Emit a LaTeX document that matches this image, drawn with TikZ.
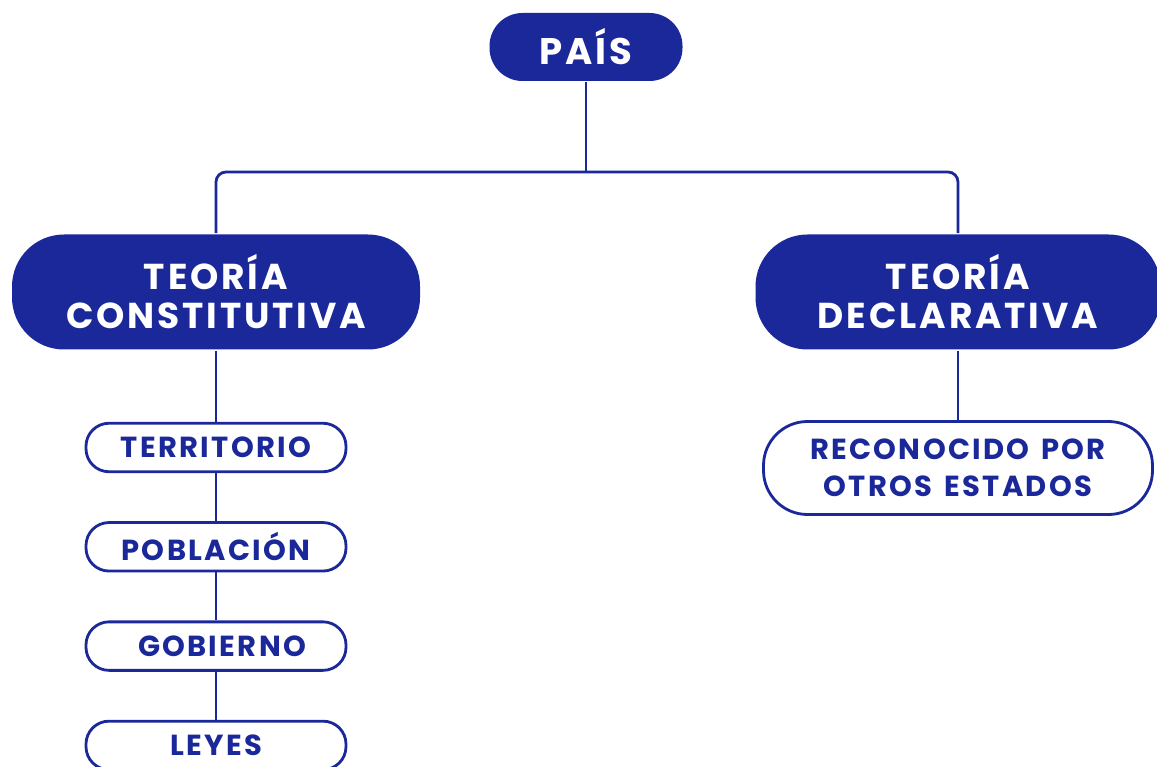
\documentclass[tikz,border=0pt]{standalone}
\usepackage{fontspec}
\newfontfamily\mapfont[LetterSpace=8,WordSpace=1.4]{Poppins}
\usepackage{tikz}
\usetikzlibrary{positioning}
\definecolor{navy}{RGB}{27,40,154}

\begin{document}
\begin{tikzpicture}[
  x=1pt,y=1pt,
  node distance=48pt,
  base/.style={rectangle,align=center,inner sep=0pt,line width=2.8pt},
  head/.style={base,fill=navy,text=white,minimum height=115pt,rounded corners=52pt,
    font=\mapfont\bfseries\fontsize{36}{39}\selectfont},
  item/.style={base,draw=navy,fill=white,text=navy,minimum width=260pt,minimum height=48.5pt,
    rounded corners=23pt,font=\mapfont\bfseries\fontsize{29}{37}\selectfont},
  conn/.style={draw=navy,line width=2.8pt}
]
\useasboundingbox[fill=white] (0,0) rectangle (1157,-767);
\node[head,minimum width=193pt,minimum height=68pt,rounded corners=33pt,
  font=\mapfont\bfseries\fontsize{37}{40}\selectfont] (pais) at (586,-47) {PAÍS};
\node[head,minimum width=408pt] (constitutiva) at (216,-292) {TEORÍA\\CONSTITUTIVA};
\node[head,minimum width=405pt] (declarativa) at (958,-292) {TEORÍA\\DECLARATIVA};
\node[item,minimum width=389pt,minimum height=93pt,rounded corners=44pt] (reconocido) at (958,-468)
  {RECONOCIDO POR\\OTROS ESTADOS};
\node[item] (territorio) at (216,-447.5) {TERRITORIO};
\node[item,below=of territorio] (poblacion) {POBLACIÓN};
\node[item,below=of poblacion] (gobierno) {\hspace*{12pt}GOBIERNO};
\node[item,below=of gobierno] (leyes) {LEYES};
\coordinate (split) at (586,-172);
\draw[conn] (pais) -- (split);
\draw[conn,rounded corners=10pt] (constitutiva) |- (split);
\draw[conn,rounded corners=10pt] (declarativa) |- (split);
\draw[conn] (declarativa) -- (reconocido);
\draw[conn] (constitutiva) -- (territorio);
\draw[conn] (territorio) -- (poblacion);
\draw[conn] (poblacion) -- (gobierno);
\draw[conn] (gobierno) -- (leyes);
\end{tikzpicture}
\end{document}
